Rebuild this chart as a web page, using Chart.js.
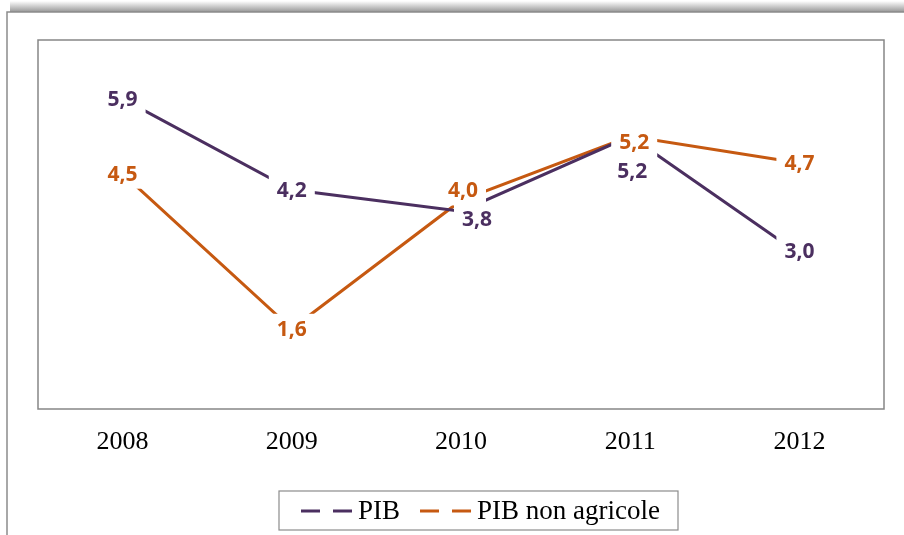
<!DOCTYPE html>
<html>
<head>
<meta charset="utf-8">
<script src="https://cdn.jsdelivr.net/npm/chart.js@4.4.1/dist/chart.umd.min.js"></script>
<style>
  html, body { margin: 0; padding: 0; background: #fff; }
  #wrap { width: 904px; height: 535px; }
</style>
</head>
<body>
<div id="wrap"><canvas id="pibChart" width="904" height="535"></canvas></div>
<script>
// data
const years = ['2008', '2009', '2010', '2011', '2012'];
const pib = [5.9, 4.2, 3.8, 5.2, 3.0];
const pibNonAgricole = [4.5, 1.6, 4.0, 5.2, 4.7];

const PURPLE = '#4b2f60';
const ORANGE = '#c65911';

// label nudges (px) where Excel moved the labels off the point
const labelShift = [
  [[0, 0], [0, 0], [16, 8], [2, 35], [0, -3]],
  [[0, 0], [0, 0], [2, -10], [4, 6], [0, 0]]
];

const framePlugin = {
  id: 'frame',
  beforeDraw(chart) {
    const ctx = chart.ctx;
    ctx.save();
    ctx.fillStyle = '#fff';
    ctx.fillRect(0, 0, chart.width, chart.height);
    // shadow above the outer frame
    const g = ctx.createLinearGradient(0, 1, 0, 12);
    g.addColorStop(0, 'rgba(255,255,255,1)');
    g.addColorStop(1, 'rgba(150,150,150,1)');
    ctx.fillStyle = g;
    ctx.fillRect(10, 1, chart.width, 11);
    ctx.strokeStyle = '#8c8c8c';
    ctx.lineWidth = 1.5;
    ctx.beginPath();
    ctx.moveTo(7, chart.height);
    ctx.lineTo(7, 12);
    ctx.lineTo(chart.width, 12);
    ctx.stroke();
    // plot area box
    const a = chart.chartArea;
    ctx.strokeStyle = '#868686';
    ctx.lineWidth = 1.5;
    ctx.strokeRect(a.left, a.top, a.right - a.left, a.bottom - a.top);
    ctx.restore();
  },
  afterDraw(chart) {
    // legend box
    const ctx = chart.ctx;
    ctx.save();
    ctx.strokeStyle = '#8c8c8c';
    ctx.lineWidth = 1.2;
    ctx.strokeRect(279, 491, 399, 39);
    ctx.font = '27px "Liberation Serif"';
    ctx.textBaseline = 'middle';
    ctx.fillStyle = '#000';
    let x = 301;
    chart.data.datasets.forEach(ds => {
      ctx.strokeStyle = ds.borderColor;
      ctx.lineWidth = 3;
      ctx.setLineDash([19, 13]);
      ctx.beginPath();
      ctx.moveTo(x, 511);
      ctx.lineTo(x + 57, 511);
      ctx.stroke();
      ctx.setLineDash([]);
      ctx.fillText(ds.label, x + 57, 512);
      x += 57 + ctx.measureText(ds.label).width + 20;
    });
    ctx.restore();
  }
};

const labelPlugin = {
  id: 'pointLabels',
  afterDatasetsDraw(chart) {
    const ctx = chart.ctx;
    ctx.save();
    ctx.font = 'bold 21px "Open Sans"';
    ctx.textAlign = 'center';
    ctx.textBaseline = 'middle';
    chart.data.datasets.forEach((ds, di) => {
      const meta = chart.getDatasetMeta(di);
      meta.data.forEach((pt, i) => {
        const txt = ds.data[i].toFixed(1).replace('.', ',');
        const s = labelShift[di][i];
        const x = pt.x + s[0], y = pt.y + s[1];
        const w = ctx.measureText(txt).width;
        ctx.fillStyle = '#fff';
        ctx.fillRect(x - w / 2 - 8, y - 15, w + 16, 30);
        ctx.fillStyle = ds.borderColor;
        ctx.fillText(txt, x, y + 1);
      });
    });
    ctx.restore();
  }
};

new Chart(document.getElementById('pibChart'), {
  type: 'line',
  data: {
    labels: years,
    datasets: [
      { label: 'PIB', data: pib, borderColor: PURPLE, backgroundColor: PURPLE,
        borderWidth: 3, pointRadius: 0, tension: 0 },
      { label: 'PIB non agricole', data: pibNonAgricole, borderColor: ORANGE, backgroundColor: ORANGE,
        borderWidth: 3, pointRadius: 0, tension: 0 }
    ]
  },
  options: {
    responsive: false,
    animation: false,
    layout: { padding: { left: 38, right: 20, top: 40, bottom: 0 } },
    plugins: { legend: { display: false }, tooltip: { enabled: false } },
    scales: {
      x: {
        offset: true,
        grid: { display: false, drawTicks: false },
        border: { display: false },
        ticks: { color: '#000', font: { family: 'Liberation Serif', size: 26 }, padding: 18 },
        afterFit(scale) { scale.height = 126; }
      },
      y: { display: false, min: 0.1, max: 7 }
    }
  },
  plugins: [framePlugin, labelPlugin]
});
</script>
</body>
</html>
